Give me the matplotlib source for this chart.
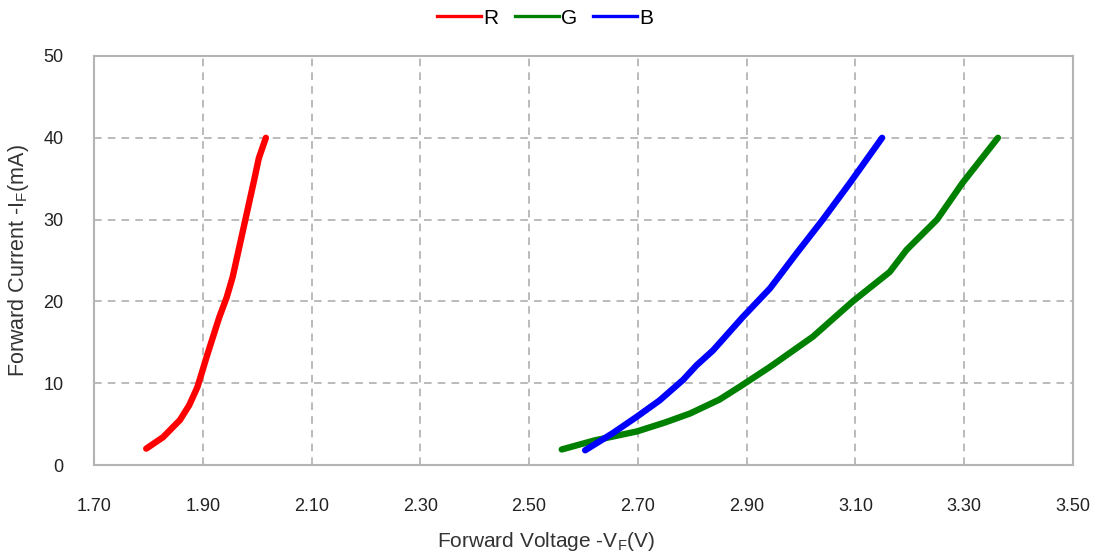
import matplotlib.pyplot as plt
from matplotlib.lines import Line2D

plt.rcParams['font.family'] = ['Liberation Sans', 'DejaVu Sans']
plt.rcParams['mathtext.fontset'] = 'custom'
plt.rcParams['mathtext.rm'] = 'Liberation Sans'

# forward voltage (V) vs forward current (mA) for each die colour
vf_r = [1.796, 1.827, 1.858, 1.875, 1.890, 1.897, 1.907, 1.918, 1.930, 1.944, 1.955,
        1.965, 1.975, 1.985, 1.995, 2.003, 2.016]
if_r = [2.0, 3.4, 5.5, 7.3, 9.5, 11.0, 13.2, 15.5, 18.0, 20.5, 23.0,
        26.0, 29.0, 32.0, 35.0, 37.5, 40.0]

vf_g = [2.560, 2.620, 2.698, 2.750, 2.796, 2.850, 2.888, 2.943, 3.022, 3.095, 3.163,
        3.194, 3.250, 3.297, 3.362]
if_g = [1.9, 3.0, 4.1, 5.2, 6.3, 8.0, 9.6, 12.0, 15.7, 20.0, 23.6,
        26.3, 30.0, 34.5, 40.0]

vf_b = [2.603, 2.654, 2.698, 2.740, 2.783, 2.808, 2.838, 2.893, 2.943, 2.992, 3.040,
        3.090, 3.149]
if_b = [1.8, 3.9, 5.9, 7.9, 10.4, 12.2, 14.0, 18.1, 21.6, 25.9, 30.0,
        34.5, 40.0]

series_names = ['R', 'G', 'B']
series_colors = ['#ff0000', '#008000', '#0000ff']

x_ticks = [1.70, 1.90, 2.10, 2.30, 2.50, 2.70, 2.90, 3.10, 3.30, 3.50]
y_ticks = [0, 10, 20, 30, 40, 50]

fig = plt.figure(figsize=(10.97, 5.58), dpi=100)
ax = fig.add_axes([94 / 1097, 1 - 465 / 558, (1073 - 94) / 1097, (465 - 56) / 558])

for vf, cur, col in zip([vf_r, vf_g, vf_b], [if_r, if_g, if_b], series_colors):
    ax.plot(vf, cur, color=col, lw=4.6, solid_capstyle='round', solid_joinstyle='round')

ax.set_xlim(1.70, 3.50)
ax.set_ylim(0, 50)
ax.set_xticks(x_ticks)
ax.set_xticklabels([f'{v:.2f}' for v in x_ticks])
ax.set_yticks(y_ticks)
ax.tick_params(length=0, labelsize=13, colors='#222222')
ax.tick_params(axis='x', pad=24)
ax.tick_params(axis='y', pad=22)

ax.grid(True, color='#a8a8a8', linestyle=(0, (5, 4)), linewidth=1.1)
ax.set_axisbelow(True)
for sp in ax.spines.values():
    sp.set_color('#b4b4b4')
    sp.set_linewidth(1.5)

ax.set_xlabel(r'Forward Voltage -V$_\mathregular{F}$(V)', fontsize=15, color='#333333')
ax.xaxis.set_label_coords(0.462, -0.158)
ax.set_ylabel(r'Forward Current -I$_\mathregular{F}$(mA)', fontsize=15.5, color='#333333')
ax.yaxis.set_label_coords(-0.064, 0.5)

handles = [Line2D([], [], color=c, lw=2.4) for c in series_colors]
fig.legend(handles, series_names, loc='upper center', bbox_to_anchor=(0.497, 1.018), ncol=3,
           frameon=False, fontsize=15, handlelength=2.1, handletextpad=0.1, columnspacing=0.8)

fig.savefig('out.png', dpi=100)
